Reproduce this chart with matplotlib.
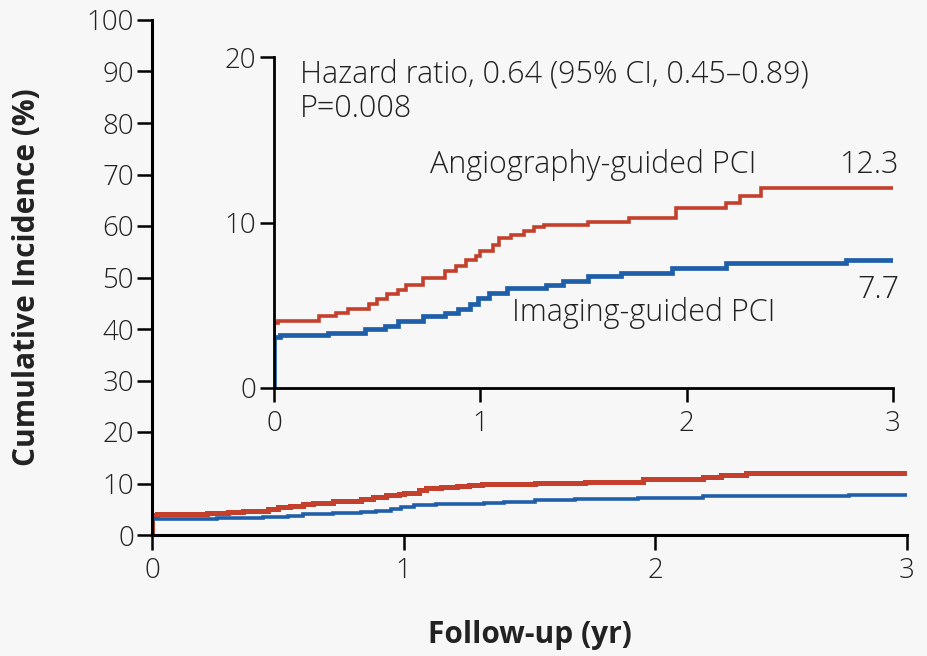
import numpy as np
import matplotlib
matplotlib.use('Agg')
import matplotlib.pyplot as plt

plt.rcParams['font.family'] = ['Open Sans', 'DejaVu Sans']
plt.rcParams['font.weight'] = 'light'

# step-curve data (years, cumulative incidence %)
angio_t = [0, 0, 0.02, 0.22, 0.30, 0.36, 0.46, 0.50, 0.55, 0.60, 0.64, 0.72, 0.83, 0.88, 0.93,
           0.98, 1.00, 1.06, 1.09, 1.15, 1.21, 1.26, 1.31, 1.52, 1.72, 1.95, 2.19, 2.26, 2.36, 3.0]
angio_v = [0, 3.95, 4.05, 4.35, 4.55, 4.75, 5.05, 5.35, 5.65, 5.95, 6.25, 6.65, 7.05, 7.35, 7.75,
           7.95, 8.25, 8.65, 9.05, 9.25, 9.5, 9.7, 9.85, 10.05, 10.3, 10.9, 11.2, 11.6, 12.1, 12.1]

imaging_t = [0, 0, 0.03, 0.26, 0.44, 0.54, 0.60, 0.72, 0.83, 0.89, 0.95, 0.99, 1.04, 1.13, 1.32,
             1.40, 1.52, 1.68, 1.93, 2.19, 2.77, 3.0]
imaging_v = [0, 3.1, 3.2, 3.35, 3.55, 3.75, 4.05, 4.35, 4.55, 4.75, 5.05, 5.45, 5.75, 6.05, 6.25,
             6.45, 6.75, 6.95, 7.25, 7.55, 7.75, 7.75]

main_yticks = [0, 10, 20, 30, 40, 50, 60, 70, 80, 90, 100]
inset_yticks = [0, 10, 20]
xticks = [0, 1, 2, 3]

hr_text = 'Hazard ratio, 0.64 (95% CI, 0.45\u20130.89)'
p_text = 'P=0.008'

bg = '#f7f7f7'
red = '#c4402c'
blue = '#1f5fa9'
txt = '#222222'

fig = plt.figure(figsize=(9.27, 6.56), dpi=100, facecolor=bg)

# main axes
ax = fig.add_axes([152 / 927, 1 - 535 / 656, (907 - 152) / 927, (535 - 20) / 656])
ax.set_facecolor(bg)
ax.step(angio_t, angio_v, where='post', color=red, lw=3.6, solid_joinstyle='miter')
ax.step(imaging_t, imaging_v, where='post', color=blue, lw=2.6, solid_joinstyle='miter')
ax.set_xlim(0, 3)
ax.set_ylim(0, 100)
ax.set_xticks(xticks)
ax.set_yticks(main_yticks)
for s in ['top', 'right']:
    ax.spines[s].set_visible(False)
for s in ['left', 'bottom']:
    ax.spines[s].set_linewidth(2.2)
    ax.spines[s].set_color('black')
ax.tick_params(length=11, width=1.8, labelsize=20, colors='black', labelcolor=txt)
ax.tick_params(axis='y', pad=2)
ax.tick_params(axis='x', pad=5)
ax.set_ylabel('Cumulative Incidence (%)', fontsize=21.5, fontweight='bold', color=txt)
ax.set_xlabel('Follow-up (yr)', fontsize=21.5, fontweight='bold', color=txt)
ax.yaxis.set_label_coords(-0.146, 0.5)
ax.xaxis.set_label_coords(0.5, -0.165)

# inset axes
ins = fig.add_axes([274 / 927, 1 - 388 / 656, (893 - 274) / 927, (388 - 57) / 656])
ins.set_facecolor(bg)
ins.step(angio_t, angio_v, where='post', color=red, lw=2.6, solid_joinstyle='miter')
ins.step(imaging_t, imaging_v, where='post', color=blue, lw=3.4, solid_joinstyle='miter')
ins.set_xlim(0, 3)
ins.set_ylim(0, 20)
ins.set_xticks(xticks)
ins.set_yticks(inset_yticks)
for s in ['top', 'right']:
    ins.spines[s].set_visible(False)
for s in ['left', 'bottom']:
    ins.spines[s].set_linewidth(2.0)
    ins.spines[s].set_color('black')
ins.tick_params(length=10, width=1.8, labelsize=20, colors='black', labelcolor=txt)
ins.tick_params(axis='y', pad=3)
ins.tick_params(axis='x', pad=6)

fs = 22
ins.text(0.126, 18.95, hr_text, fontsize=fs, color=txt, va='center', ha='left')
ins.text(0.126, 16.85, p_text, fontsize=fs, color=txt, va='center', ha='left')
ins.text(0.756, 13.5, 'Angiography-guided PCI', fontsize=fs, color=txt, va='center', ha='left')
ins.text(3.03, 13.5, '12.3', fontsize=fs, color=txt, va='center', ha='right', clip_on=False)
ins.text(1.154, 4.55, 'Imaging-guided PCI', fontsize=fs, color=txt, va='center', ha='left')
ins.text(3.03, 5.9, '7.7', fontsize=fs, color=txt, va='center', ha='right', clip_on=False)

fig.savefig('out.png', dpi=100, facecolor=bg)
